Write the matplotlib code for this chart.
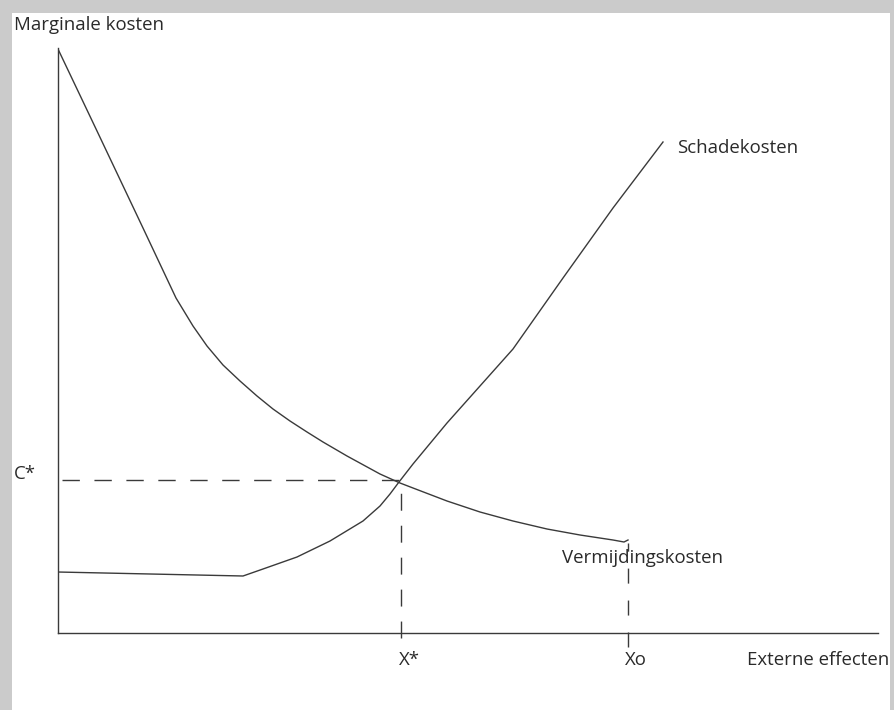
import matplotlib
matplotlib.use("Agg")
import matplotlib.pyplot as plt
from matplotlib.patches import Rectangle

# Data (units: horizontal / vertical distance from the origin)
verm_x = [0, 39.5, 85.5, 118.5, 135.5, 149.5, 165.5, 182.5, 199.5, 215.5,
          232.5, 249.5, 265.5, 289.5, 322.5, 342.5, 355.5, 389.5, 422.5, 455.5,
          489.5, 522.5, 555.5, 566.5, 570.5]
verm_y = [585, 502, 405, 335, 307, 287, 268, 252, 237, 224,
          212, 201, 191, 177, 159, 150, 145, 132, 121, 112,
          104, 98, 93, 91, 93]
schade_x = [0, 185.5, 205.5, 239.5, 272.5, 305.5, 322.5, 332.5, 341.5, 355.5,
            389.5, 422.5, 455.5, 505.5, 555.5, 605.5]
schade_y = [61, 57, 64, 76, 92, 112, 127, 139, 151, 169,
            210, 247, 284, 355, 425, 491]
c_star = 153
x_star = 343.5
x_o = 570.5
x_max = 820.5
y_max = 585

line_color = "#3a3a3a"
text_color = "#2a2a2a"
font = "Open Sans"
fs = 13.4

W, H = 894, 710
fig = plt.figure(figsize=(W / 100, H / 100), dpi=100)
fig.patch.set_facecolor("#cbcbcb")
fig.add_artist(Rectangle((12 / W, 0), (890 - 12) / W, (710 - 13) / H,
                         transform=fig.transFigure, facecolor="white",
                         edgecolor="none", zorder=0))

ox, oy = 57.5, 633
ax = fig.add_axes([ox / W, (H - oy) / H, (878 - ox) / W, (oy - 48) / H])
ax.set_facecolor("none")
ax.set_xlim(0, x_max)
ax.set_ylim(0, y_max)
for s in ["top", "right"]:
    ax.spines[s].set_visible(False)
for s in ["left", "bottom"]:
    ax.spines[s].set_color(line_color)
    ax.spines[s].set_linewidth(1.0)
ax.set_xticks([])
ax.set_yticks([])

ax.plot(verm_x, verm_y, color=line_color, lw=1.0, solid_joinstyle="round")
ax.plot(schade_x, schade_y, color=line_color, lw=1.0, solid_joinstyle="round")

ax.plot([4.5, x_star], [c_star, c_star], color=line_color, lw=1.0,
        dashes=(12.5, 10.5))
ax.plot([x_star, x_star], [-5, c_star], color=line_color, lw=1.0,
        dashes=(12.2, 10.8), clip_on=False)
ax.plot([x_o, x_o], [-14, 90], color=line_color, lw=1.0,
        dashes=(10.8, 12.2), clip_on=False)

kw = dict(fontsize=fs, color=text_color, family=font, clip_on=False)
ax.text(-44, y_max + 23, "Marginale kosten", ha="left", va="center", **kw)
ax.text(-44, 159, "C*", ha="left", va="center", **kw)
ax.text(x_star + 8, -27, "X*", ha="center", va="center", **kw)
ax.text(x_o + 8, -27, "Xo", ha="center", va="center", **kw)
ax.text(x_max + 11, -27, "Externe effecten", ha="right", va="center", **kw)
ax.text(620, 485, "Schadekosten", ha="left", va="center", **kw)
ax.text(505, 75, "Vermijdingskosten", ha="left", va="center", **kw)

fig.savefig("out.png", dpi=100, facecolor=fig.get_facecolor())
